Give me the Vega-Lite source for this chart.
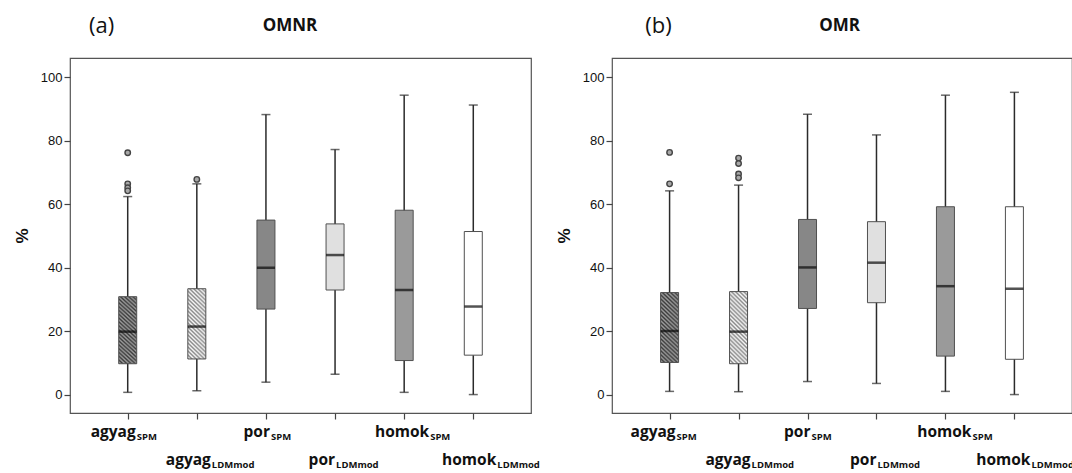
{
  "$schema": "https://vega.github.io/schema/vega-lite/v6.json",
  "background": "white",
  "autosize": {"type": "pad"},
  "padding": {"left": 12, "top": 13, "right": 0, "bottom": 0},
  "datasets": {
    "stats": [
      {"panel": "OMNR", "cat": "agyag_SPM", "lo": 0.8, "q1": 9.8, "med": 19.9, "q3": 30.9, "hi": 62.4},
      {"panel": "OMNR", "cat": "agyag_LDMmod", "lo": 1.3, "q1": 11.3, "med": 21.5, "q3": 33.4, "hi": 66.4},
      {"panel": "OMNR", "cat": "por_SPM", "lo": 4.0, "q1": 27.0, "med": 40.0, "q3": 55.0, "hi": 88.2},
      {"panel": "OMNR", "cat": "por_LDMmod", "lo": 6.5, "q1": 33.0, "med": 44.0, "q3": 53.8, "hi": 77.2},
      {"panel": "OMNR", "cat": "homok_SPM", "lo": 0.8, "q1": 10.8, "med": 33.0, "q3": 58.1, "hi": 94.3},
      {"panel": "OMNR", "cat": "homok_LDMmod", "lo": 0.1, "q1": 12.5, "med": 27.8, "q3": 51.4, "hi": 91.2},
      {"panel": "OMR", "cat": "agyag_SPM", "lo": 1.1, "q1": 10.2, "med": 20.1, "q3": 32.2, "hi": 64.2},
      {"panel": "OMR", "cat": "agyag_LDMmod", "lo": 1.0, "q1": 9.8, "med": 19.9, "q3": 32.5, "hi": 66.0},
      {"panel": "OMR", "cat": "por_SPM", "lo": 4.2, "q1": 27.2, "med": 40.1, "q3": 55.2, "hi": 88.3},
      {"panel": "OMR", "cat": "por_LDMmod", "lo": 3.6, "q1": 29.0, "med": 41.6, "q3": 54.5, "hi": 81.8},
      {"panel": "OMR", "cat": "homok_SPM", "lo": 1.1, "q1": 12.2, "med": 34.2, "q3": 59.2, "hi": 94.3},
      {"panel": "OMR", "cat": "homok_LDMmod", "lo": 0.1, "q1": 11.2, "med": 33.4, "q3": 59.2, "hi": 95.2}
    ],
    "outliers": [
      {"panel": "OMNR", "cat": "agyag_SPM", "v": 76.2},
      {"panel": "OMNR", "cat": "agyag_SPM", "v": 66.4},
      {"panel": "OMNR", "cat": "agyag_SPM", "v": 65.2},
      {"panel": "OMNR", "cat": "agyag_SPM", "v": 64.2},
      {"panel": "OMNR", "cat": "agyag_LDMmod", "v": 67.8},
      {"panel": "OMR", "cat": "agyag_SPM", "v": 76.3},
      {"panel": "OMR", "cat": "agyag_SPM", "v": 66.4},
      {"panel": "OMR", "cat": "agyag_LDMmod", "v": 74.5},
      {"panel": "OMR", "cat": "agyag_LDMmod", "v": 72.8},
      {"panel": "OMR", "cat": "agyag_LDMmod", "v": 69.5},
      {"panel": "OMR", "cat": "agyag_LDMmod", "v": 68.3}
    ],
    "labels": [
      {"cat": "agyag_SPM", "base": "agyag", "sub": "SPM"},
      {"cat": "agyag_LDMmod", "base": "agyag", "sub": "LDMmod"},
      {"cat": "por_SPM", "base": "por", "sub": "SPM"},
      {"cat": "por_LDMmod", "base": "por", "sub": "LDMmod"},
      {"cat": "homok_SPM", "base": "homok", "sub": "SPM"},
      {"cat": "homok_LDMmod", "base": "homok", "sub": "LDMmod"}
    ],
    "heads": [
      {"panel": "OMNR", "tag": "(a)"},
      {"panel": "OMR", "tag": "(b)"}
    ]
  },
  "bounds": "flush",
  "spacing": 81,
  "hconcat": [
    {
      "width": 461,
      "height": 355,
      "layer": [
        {
          "data": {"name": "stats"},
          "transform": [{"filter": "datum.panel == 'OMNR'"}],
          "mark": {"type": "rule", "color": "#2b2b2b", "strokeWidth": 1.5},
          "encoding": {
            "x": {"field": "cat", "type": "nominal", "scale": {"type": "point", "domain": ["agyag_SPM", "agyag_LDMmod", "por_SPM", "por_LDMmod", "homok_SPM", "homok_LDMmod"], "padding": 0.835}, "axis": {"labels": false, "title": null, "domain": false, "tickSize": 6}},
            "y": {"field": "lo", "type": "quantitative", "scale": {"domain": [-5.7, 106], "nice": false, "zero": false}, "axis": {"title": "%", "values": [0, 20, 40, 60, 80, 100], "grid": false, "domain": false, "tickSize": 6, "labelPadding": 2, "titlePadding": 9}},
            "y2": {"field": "hi"}
          }
        },
        {
          "data": {"name": "stats"},
          "transform": [{"filter": "datum.panel == 'OMNR'"}],
          "mark": {"type": "tick", "color": "#2b2b2b", "size": 9, "thickness": 1.5},
          "encoding": {"x": {"field": "cat", "type": "nominal"}, "y": {"field": "lo", "type": "quantitative"}}
        },
        {
          "data": {"name": "stats"},
          "transform": [{"filter": "datum.panel == 'OMNR'"}],
          "mark": {"type": "tick", "color": "#2b2b2b", "size": 9, "thickness": 1.5},
          "encoding": {"x": {"field": "cat", "type": "nominal"}, "y": {"field": "hi", "type": "quantitative"}}
        },
        {
          "data": {"name": "stats"},
          "transform": [{"filter": "datum.panel == 'OMNR' && datum.cat != 'agyag_SPM' && datum.cat != 'agyag_LDMmod'"}],
          "mark": {"type": "bar", "size": 18, "stroke": "#505050", "strokeWidth": 1, "opacity": 1},
          "encoding": {
            "x": {"field": "cat", "type": "nominal"},
            "y": {"field": "q1", "type": "quantitative"},
            "y2": {"field": "q3"},
            "fill": {"field": "cat", "type": "nominal", "legend": null, "scale": {"domain": ["por_SPM", "por_LDMmod", "homok_SPM", "homok_LDMmod"], "range": ["#878787", "#e0e0e0", "#9a9a9a", "#ffffff"]}}
          }
        },
        {
          "data": {"name": "stats"},
          "transform": [{"filter": "datum.panel == 'OMNR' && datum.cat == 'agyag_SPM'"}],
          "mark": {"type": "bar", "size": 18, "stroke": "#505050", "strokeWidth": 1, "opacity": 1,
            "fill": {"gradient": "linear", "x1": 0, "y1": 1, "x2": 0.29, "y2": -0.18, "stops": [
              {"offset": 0, "color": "#3c3c3c"}, {"offset": 0.0227, "color": "#9c9c9c"}, {"offset": 0.0455, "color": "#3c3c3c"}, {"offset": 0.0682, "color": "#9c9c9c"}, {"offset": 0.0909, "color": "#3c3c3c"}, {"offset": 0.1136, "color": "#9c9c9c"}, {"offset": 0.1364, "color": "#3c3c3c"}, {"offset": 0.1591, "color": "#9c9c9c"}, {"offset": 0.1818, "color": "#3c3c3c"}, {"offset": 0.2045, "color": "#9c9c9c"}, {"offset": 0.2273, "color": "#3c3c3c"}, {"offset": 0.25, "color": "#9c9c9c"}, {"offset": 0.2727, "color": "#3c3c3c"}, {"offset": 0.2955, "color": "#9c9c9c"}, {"offset": 0.3182, "color": "#3c3c3c"}, {"offset": 0.3409, "color": "#9c9c9c"}, {"offset": 0.3636, "color": "#3c3c3c"}, {"offset": 0.3864, "color": "#9c9c9c"}, {"offset": 0.4091, "color": "#3c3c3c"}, {"offset": 0.4318, "color": "#9c9c9c"}, {"offset": 0.4545, "color": "#3c3c3c"}, {"offset": 0.4773, "color": "#9c9c9c"}, {"offset": 0.5, "color": "#3c3c3c"}, {"offset": 0.5227, "color": "#9c9c9c"}, {"offset": 0.5455, "color": "#3c3c3c"}, {"offset": 0.5682, "color": "#9c9c9c"}, {"offset": 0.5909, "color": "#3c3c3c"}, {"offset": 0.6136, "color": "#9c9c9c"}, {"offset": 0.6364, "color": "#3c3c3c"}, {"offset": 0.6591, "color": "#9c9c9c"}, {"offset": 0.6818, "color": "#3c3c3c"}, {"offset": 0.7045, "color": "#9c9c9c"}, {"offset": 0.7273, "color": "#3c3c3c"}, {"offset": 0.75, "color": "#9c9c9c"}, {"offset": 0.7727, "color": "#3c3c3c"}, {"offset": 0.7955, "color": "#9c9c9c"}, {"offset": 0.8182, "color": "#3c3c3c"}, {"offset": 0.8409, "color": "#9c9c9c"}, {"offset": 0.8636, "color": "#3c3c3c"}, {"offset": 0.8864, "color": "#9c9c9c"}, {"offset": 0.9091, "color": "#3c3c3c"}, {"offset": 0.9318, "color": "#9c9c9c"}, {"offset": 0.9545, "color": "#3c3c3c"}, {"offset": 0.9773, "color": "#9c9c9c"}, {"offset": 1, "color": "#3c3c3c"}
            ]}},
          "encoding": {"x": {"field": "cat", "type": "nominal"}, "y": {"field": "q1", "type": "quantitative"}, "y2": {"field": "q3"}}
        },
        {
          "data": {"name": "stats"},
          "transform": [{"filter": "datum.panel == 'OMNR' && datum.cat == 'agyag_LDMmod'"}],
          "mark": {"type": "bar", "size": 18, "stroke": "#505050", "strokeWidth": 1, "opacity": 1,
            "fill": {"gradient": "linear", "x1": 0, "y1": 1, "x2": 0.29, "y2": -0.18, "stops": [
              {"offset": 0, "color": "#8a8a8a"}, {"offset": 0.0227, "color": "#f6f6f6"}, {"offset": 0.0455, "color": "#8a8a8a"}, {"offset": 0.0682, "color": "#f6f6f6"}, {"offset": 0.0909, "color": "#8a8a8a"}, {"offset": 0.1136, "color": "#f6f6f6"}, {"offset": 0.1364, "color": "#8a8a8a"}, {"offset": 0.1591, "color": "#f6f6f6"}, {"offset": 0.1818, "color": "#8a8a8a"}, {"offset": 0.2045, "color": "#f6f6f6"}, {"offset": 0.2273, "color": "#8a8a8a"}, {"offset": 0.25, "color": "#f6f6f6"}, {"offset": 0.2727, "color": "#8a8a8a"}, {"offset": 0.2955, "color": "#f6f6f6"}, {"offset": 0.3182, "color": "#8a8a8a"}, {"offset": 0.3409, "color": "#f6f6f6"}, {"offset": 0.3636, "color": "#8a8a8a"}, {"offset": 0.3864, "color": "#f6f6f6"}, {"offset": 0.4091, "color": "#8a8a8a"}, {"offset": 0.4318, "color": "#f6f6f6"}, {"offset": 0.4545, "color": "#8a8a8a"}, {"offset": 0.4773, "color": "#f6f6f6"}, {"offset": 0.5, "color": "#8a8a8a"}, {"offset": 0.5227, "color": "#f6f6f6"}, {"offset": 0.5455, "color": "#8a8a8a"}, {"offset": 0.5682, "color": "#f6f6f6"}, {"offset": 0.5909, "color": "#8a8a8a"}, {"offset": 0.6136, "color": "#f6f6f6"}, {"offset": 0.6364, "color": "#8a8a8a"}, {"offset": 0.6591, "color": "#f6f6f6"}, {"offset": 0.6818, "color": "#8a8a8a"}, {"offset": 0.7045, "color": "#f6f6f6"}, {"offset": 0.7273, "color": "#8a8a8a"}, {"offset": 0.75, "color": "#f6f6f6"}, {"offset": 0.7727, "color": "#8a8a8a"}, {"offset": 0.7955, "color": "#f6f6f6"}, {"offset": 0.8182, "color": "#8a8a8a"}, {"offset": 0.8409, "color": "#f6f6f6"}, {"offset": 0.8636, "color": "#8a8a8a"}, {"offset": 0.8864, "color": "#f6f6f6"}, {"offset": 0.9091, "color": "#8a8a8a"}, {"offset": 0.9318, "color": "#f6f6f6"}, {"offset": 0.9545, "color": "#8a8a8a"}, {"offset": 0.9773, "color": "#f6f6f6"}, {"offset": 1, "color": "#8a8a8a"}
            ]}},
          "encoding": {"x": {"field": "cat", "type": "nominal"}, "y": {"field": "q1", "type": "quantitative"}, "y2": {"field": "q3"}}
        },
        {
          "data": {"name": "stats"},
          "transform": [{"filter": "datum.panel == 'OMNR'"}],
          "mark": {"type": "tick", "color": "#0a0a0a", "size": 18, "thickness": 2.5},
          "encoding": {"x": {"field": "cat", "type": "nominal"}, "y": {"field": "med", "type": "quantitative"}}
        },
        {
          "data": {"name": "outliers"},
          "transform": [{"filter": "datum.panel == 'OMNR'"}],
          "mark": {"type": "point", "shape": "circle", "filled": true, "size": 30, "fill": "#a8a8a8", "stroke": "#444444", "strokeWidth": 1.4, "opacity": 1},
          "encoding": {"x": {"field": "cat", "type": "nominal"}, "y": {"field": "v", "type": "quantitative"}}
        },
        {
          "data": {"name": "heads"},
          "transform": [{"filter": "datum.panel == 'OMNR'"}],
          "mark": {"type": "text", "font": "Open Sans", "fontSize": 22, "color": "#111", "align": "center", "baseline": "middle", "dx": -26},
          "encoding": {"x": {"datum": "agyag_SPM", "type": "nominal"}, "y": {"datum": 116.2, "type": "quantitative"}, "text": {"field": "tag"}}
        },
        {
          "data": {"name": "heads"},
          "transform": [{"filter": "datum.panel == 'OMNR'"}],
          "mark": {"type": "text", "font": "Open Sans", "fontSize": 17, "fontWeight": "bold", "color": "#111", "align": "center", "baseline": "middle", "dx": 24},
          "encoding": {"x": {"datum": "por_SPM", "type": "nominal"}, "y": {"datum": 116.2, "type": "quantitative"}, "text": {"field": "panel"}}
        },
        {"data": {"name": "labels"}, "transform": [{"filter": "datum.cat == 'agyag_SPM'"}], "mark": {"type": "text", "font": "Open Sans", "fontSize": 15.5, "fontWeight": "bold", "color": "#111", "align": "right", "baseline": "alphabetic", "dx": 8}, "encoding": {"x": {"field": "cat", "type": "nominal"}, "y": {"datum": -13.2, "type": "quantitative"}, "text": {"field": "base"}}},
        {"data": {"name": "labels"}, "transform": [{"filter": "datum.cat == 'agyag_SPM'"}], "mark": {"type": "text", "font": "Open Sans", "fontSize": 9.5, "fontWeight": "bold", "color": "#111", "align": "left", "baseline": "alphabetic", "dx": 9, "dy": 3}, "encoding": {"x": {"field": "cat", "type": "nominal"}, "y": {"datum": -13.2, "type": "quantitative"}, "text": {"field": "sub"}}},
        {"data": {"name": "labels"}, "transform": [{"filter": "datum.cat == 'agyag_LDMmod'"}], "mark": {"type": "text", "font": "Open Sans", "fontSize": 15.5, "fontWeight": "bold", "color": "#111", "align": "right", "baseline": "alphabetic", "dx": 14}, "encoding": {"x": {"field": "cat", "type": "nominal"}, "y": {"datum": -22.1, "type": "quantitative"}, "text": {"field": "base"}}},
        {"data": {"name": "labels"}, "transform": [{"filter": "datum.cat == 'agyag_LDMmod'"}], "mark": {"type": "text", "font": "Open Sans", "fontSize": 9.5, "fontWeight": "bold", "color": "#111", "align": "left", "baseline": "alphabetic", "dx": 15, "dy": 2.5}, "encoding": {"x": {"field": "cat", "type": "nominal"}, "y": {"datum": -22.1, "type": "quantitative"}, "text": {"field": "sub"}}},
        {"data": {"name": "labels"}, "transform": [{"filter": "datum.cat == 'por_SPM'"}], "mark": {"type": "text", "font": "Open Sans", "fontSize": 15.5, "fontWeight": "bold", "color": "#111", "align": "right", "baseline": "alphabetic", "dx": 4}, "encoding": {"x": {"field": "cat", "type": "nominal"}, "y": {"datum": -13.2, "type": "quantitative"}, "text": {"field": "base"}}},
        {"data": {"name": "labels"}, "transform": [{"filter": "datum.cat == 'por_SPM'"}], "mark": {"type": "text", "font": "Open Sans", "fontSize": 9.5, "fontWeight": "bold", "color": "#111", "align": "left", "baseline": "alphabetic", "dx": 5, "dy": 3}, "encoding": {"x": {"field": "cat", "type": "nominal"}, "y": {"datum": -13.2, "type": "quantitative"}, "text": {"field": "sub"}}},
        {"data": {"name": "labels"}, "transform": [{"filter": "datum.cat == 'por_LDMmod'"}], "mark": {"type": "text", "font": "Open Sans", "fontSize": 15.5, "fontWeight": "bold", "color": "#111", "align": "right", "baseline": "alphabetic", "dx": 0}, "encoding": {"x": {"field": "cat", "type": "nominal"}, "y": {"datum": -22.1, "type": "quantitative"}, "text": {"field": "base"}}},
        {"data": {"name": "labels"}, "transform": [{"filter": "datum.cat == 'por_LDMmod'"}], "mark": {"type": "text", "font": "Open Sans", "fontSize": 9.5, "fontWeight": "bold", "color": "#111", "align": "left", "baseline": "alphabetic", "dx": 1, "dy": 2.5}, "encoding": {"x": {"field": "cat", "type": "nominal"}, "y": {"datum": -22.1, "type": "quantitative"}, "text": {"field": "sub"}}},
        {"data": {"name": "labels"}, "transform": [{"filter": "datum.cat == 'homok_SPM'"}], "mark": {"type": "text", "font": "Open Sans", "fontSize": 15.5, "fontWeight": "bold", "color": "#111", "align": "right", "baseline": "alphabetic", "dx": 25}, "encoding": {"x": {"field": "cat", "type": "nominal"}, "y": {"datum": -13.2, "type": "quantitative"}, "text": {"field": "base"}}},
        {"data": {"name": "labels"}, "transform": [{"filter": "datum.cat == 'homok_SPM'"}], "mark": {"type": "text", "font": "Open Sans", "fontSize": 9.5, "fontWeight": "bold", "color": "#111", "align": "left", "baseline": "alphabetic", "dx": 26, "dy": 3}, "encoding": {"x": {"field": "cat", "type": "nominal"}, "y": {"datum": -13.2, "type": "quantitative"}, "text": {"field": "sub"}}},
        {"data": {"name": "labels"}, "transform": [{"filter": "datum.cat == 'homok_LDMmod'"}], "mark": {"type": "text", "font": "Open Sans", "fontSize": 15.5, "fontWeight": "bold", "color": "#111", "align": "right", "baseline": "alphabetic", "dx": 23}, "encoding": {"x": {"field": "cat", "type": "nominal"}, "y": {"datum": -22.1, "type": "quantitative"}, "text": {"field": "base"}}},
        {"data": {"name": "labels"}, "transform": [{"filter": "datum.cat == 'homok_LDMmod'"}], "mark": {"type": "text", "font": "Open Sans", "fontSize": 9.5, "fontWeight": "bold", "color": "#111", "align": "left", "baseline": "alphabetic", "dx": 24, "dy": 2.5}, "encoding": {"x": {"field": "cat", "type": "nominal"}, "y": {"datum": -22.1, "type": "quantitative"}, "text": {"field": "sub"}}}
      ]
    },
    {
      "width": 460,
      "height": 355,
      "layer": [
        {
          "data": {"name": "stats"},
          "transform": [{"filter": "datum.panel == 'OMR'"}],
          "mark": {"type": "rule", "color": "#2b2b2b", "strokeWidth": 1.5},
          "encoding": {
            "x": {"field": "cat", "type": "nominal", "scale": {"type": "point", "domain": ["agyag_SPM", "agyag_LDMmod", "por_SPM", "por_LDMmod", "homok_SPM", "homok_LDMmod"], "padding": 0.835}, "axis": {"labels": false, "title": null, "domain": false, "tickSize": 6}},
            "y": {"field": "lo", "type": "quantitative", "scale": {"domain": [-5.7, 106], "nice": false, "zero": false}, "axis": {"title": "%", "values": [0, 20, 40, 60, 80, 100], "grid": false, "domain": false, "tickSize": 6, "labelPadding": 2, "titlePadding": 9}},
            "y2": {"field": "hi"}
          }
        },
        {
          "data": {"name": "stats"},
          "transform": [{"filter": "datum.panel == 'OMR'"}],
          "mark": {"type": "tick", "color": "#2b2b2b", "size": 9, "thickness": 1.5},
          "encoding": {"x": {"field": "cat", "type": "nominal"}, "y": {"field": "lo", "type": "quantitative"}}
        },
        {
          "data": {"name": "stats"},
          "transform": [{"filter": "datum.panel == 'OMR'"}],
          "mark": {"type": "tick", "color": "#2b2b2b", "size": 9, "thickness": 1.5},
          "encoding": {"x": {"field": "cat", "type": "nominal"}, "y": {"field": "hi", "type": "quantitative"}}
        },
        {
          "data": {"name": "stats"},
          "transform": [{"filter": "datum.panel == 'OMR' && datum.cat != 'agyag_SPM' && datum.cat != 'agyag_LDMmod'"}],
          "mark": {"type": "bar", "size": 18, "stroke": "#505050", "strokeWidth": 1, "opacity": 1},
          "encoding": {
            "x": {"field": "cat", "type": "nominal"},
            "y": {"field": "q1", "type": "quantitative"},
            "y2": {"field": "q3"},
            "fill": {"field": "cat", "type": "nominal", "legend": null, "scale": {"domain": ["por_SPM", "por_LDMmod", "homok_SPM", "homok_LDMmod"], "range": ["#878787", "#e0e0e0", "#9a9a9a", "#ffffff"]}}
          }
        },
        {
          "data": {"name": "stats"},
          "transform": [{"filter": "datum.panel == 'OMR' && datum.cat == 'agyag_SPM'"}],
          "mark": {"type": "bar", "size": 18, "stroke": "#505050", "strokeWidth": 1, "opacity": 1,
            "fill": {"gradient": "linear", "x1": 0, "y1": 1, "x2": 0.29, "y2": -0.18, "stops": [
              {"offset": 0, "color": "#3c3c3c"}, {"offset": 0.0227, "color": "#9c9c9c"}, {"offset": 0.0455, "color": "#3c3c3c"}, {"offset": 0.0682, "color": "#9c9c9c"}, {"offset": 0.0909, "color": "#3c3c3c"}, {"offset": 0.1136, "color": "#9c9c9c"}, {"offset": 0.1364, "color": "#3c3c3c"}, {"offset": 0.1591, "color": "#9c9c9c"}, {"offset": 0.1818, "color": "#3c3c3c"}, {"offset": 0.2045, "color": "#9c9c9c"}, {"offset": 0.2273, "color": "#3c3c3c"}, {"offset": 0.25, "color": "#9c9c9c"}, {"offset": 0.2727, "color": "#3c3c3c"}, {"offset": 0.2955, "color": "#9c9c9c"}, {"offset": 0.3182, "color": "#3c3c3c"}, {"offset": 0.3409, "color": "#9c9c9c"}, {"offset": 0.3636, "color": "#3c3c3c"}, {"offset": 0.3864, "color": "#9c9c9c"}, {"offset": 0.4091, "color": "#3c3c3c"}, {"offset": 0.4318, "color": "#9c9c9c"}, {"offset": 0.4545, "color": "#3c3c3c"}, {"offset": 0.4773, "color": "#9c9c9c"}, {"offset": 0.5, "color": "#3c3c3c"}, {"offset": 0.5227, "color": "#9c9c9c"}, {"offset": 0.5455, "color": "#3c3c3c"}, {"offset": 0.5682, "color": "#9c9c9c"}, {"offset": 0.5909, "color": "#3c3c3c"}, {"offset": 0.6136, "color": "#9c9c9c"}, {"offset": 0.6364, "color": "#3c3c3c"}, {"offset": 0.6591, "color": "#9c9c9c"}, {"offset": 0.6818, "color": "#3c3c3c"}, {"offset": 0.7045, "color": "#9c9c9c"}, {"offset": 0.7273, "color": "#3c3c3c"}, {"offset": 0.75, "color": "#9c9c9c"}, {"offset": 0.7727, "color": "#3c3c3c"}, {"offset": 0.7955, "color": "#9c9c9c"}, {"offset": 0.8182, "color": "#3c3c3c"}, {"offset": 0.8409, "color": "#9c9c9c"}, {"offset": 0.8636, "color": "#3c3c3c"}, {"offset": 0.8864, "color": "#9c9c9c"}, {"offset": 0.9091, "color": "#3c3c3c"}, {"offset": 0.9318, "color": "#9c9c9c"}, {"offset": 0.9545, "color": "#3c3c3c"}, {"offset": 0.9773, "color": "#9c9c9c"}, {"offset": 1, "color": "#3c3c3c"}
            ]}},
          "encoding": {"x": {"field": "cat", "type": "nominal"}, "y": {"field": "q1", "type": "quantitative"}, "y2": {"field": "q3"}}
        },
        {
          "data": {"name": "stats"},
          "transform": [{"filter": "datum.panel == 'OMR' && datum.cat == 'agyag_LDMmod'"}],
          "mark": {"type": "bar", "size": 18, "stroke": "#505050", "strokeWidth": 1, "opacity": 1,
            "fill": {"gradient": "linear", "x1": 0, "y1": 1, "x2": 0.29, "y2": -0.18, "stops": [
              {"offset": 0, "color": "#8a8a8a"}, {"offset": 0.0227, "color": "#f6f6f6"}, {"offset": 0.0455, "color": "#8a8a8a"}, {"offset": 0.0682, "color": "#f6f6f6"}, {"offset": 0.0909, "color": "#8a8a8a"}, {"offset": 0.1136, "color": "#f6f6f6"}, {"offset": 0.1364, "color": "#8a8a8a"}, {"offset": 0.1591, "color": "#f6f6f6"}, {"offset": 0.1818, "color": "#8a8a8a"}, {"offset": 0.2045, "color": "#f6f6f6"}, {"offset": 0.2273, "color": "#8a8a8a"}, {"offset": 0.25, "color": "#f6f6f6"}, {"offset": 0.2727, "color": "#8a8a8a"}, {"offset": 0.2955, "color": "#f6f6f6"}, {"offset": 0.3182, "color": "#8a8a8a"}, {"offset": 0.3409, "color": "#f6f6f6"}, {"offset": 0.3636, "color": "#8a8a8a"}, {"offset": 0.3864, "color": "#f6f6f6"}, {"offset": 0.4091, "color": "#8a8a8a"}, {"offset": 0.4318, "color": "#f6f6f6"}, {"offset": 0.4545, "color": "#8a8a8a"}, {"offset": 0.4773, "color": "#f6f6f6"}, {"offset": 0.5, "color": "#8a8a8a"}, {"offset": 0.5227, "color": "#f6f6f6"}, {"offset": 0.5455, "color": "#8a8a8a"}, {"offset": 0.5682, "color": "#f6f6f6"}, {"offset": 0.5909, "color": "#8a8a8a"}, {"offset": 0.6136, "color": "#f6f6f6"}, {"offset": 0.6364, "color": "#8a8a8a"}, {"offset": 0.6591, "color": "#f6f6f6"}, {"offset": 0.6818, "color": "#8a8a8a"}, {"offset": 0.7045, "color": "#f6f6f6"}, {"offset": 0.7273, "color": "#8a8a8a"}, {"offset": 0.75, "color": "#f6f6f6"}, {"offset": 0.7727, "color": "#8a8a8a"}, {"offset": 0.7955, "color": "#f6f6f6"}, {"offset": 0.8182, "color": "#8a8a8a"}, {"offset": 0.8409, "color": "#f6f6f6"}, {"offset": 0.8636, "color": "#8a8a8a"}, {"offset": 0.8864, "color": "#f6f6f6"}, {"offset": 0.9091, "color": "#8a8a8a"}, {"offset": 0.9318, "color": "#f6f6f6"}, {"offset": 0.9545, "color": "#8a8a8a"}, {"offset": 0.9773, "color": "#f6f6f6"}, {"offset": 1, "color": "#8a8a8a"}
            ]}},
          "encoding": {"x": {"field": "cat", "type": "nominal"}, "y": {"field": "q1", "type": "quantitative"}, "y2": {"field": "q3"}}
        },
        {
          "data": {"name": "stats"},
          "transform": [{"filter": "datum.panel == 'OMR'"}],
          "mark": {"type": "tick", "color": "#0a0a0a", "size": 18, "thickness": 2.5},
          "encoding": {"x": {"field": "cat", "type": "nominal"}, "y": {"field": "med", "type": "quantitative"}}
        },
        {
          "data": {"name": "outliers"},
          "transform": [{"filter": "datum.panel == 'OMR'"}],
          "mark": {"type": "point", "shape": "circle", "filled": true, "size": 30, "fill": "#a8a8a8", "stroke": "#444444", "strokeWidth": 1.4, "opacity": 1},
          "encoding": {"x": {"field": "cat", "type": "nominal"}, "y": {"field": "v", "type": "quantitative"}}
        },
        {
          "data": {"name": "heads"},
          "transform": [{"filter": "datum.panel == 'OMR'"}],
          "mark": {"type": "text", "font": "Open Sans", "fontSize": 22, "color": "#111", "align": "center", "baseline": "middle", "dx": -11},
          "encoding": {"x": {"datum": "agyag_SPM", "type": "nominal"}, "y": {"datum": 116.2, "type": "quantitative"}, "text": {"field": "tag"}}
        },
        {
          "data": {"name": "heads"},
          "transform": [{"filter": "datum.panel == 'OMR'"}],
          "mark": {"type": "text", "font": "Open Sans", "fontSize": 17, "fontWeight": "bold", "color": "#111", "align": "center", "baseline": "middle", "dx": 32},
          "encoding": {"x": {"datum": "por_SPM", "type": "nominal"}, "y": {"datum": 116.2, "type": "quantitative"}, "text": {"field": "panel"}}
        },
        {"data": {"name": "labels"}, "transform": [{"filter": "datum.cat == 'agyag_SPM'"}], "mark": {"type": "text", "font": "Open Sans", "fontSize": 15.5, "fontWeight": "bold", "color": "#111", "align": "right", "baseline": "alphabetic", "dx": 6}, "encoding": {"x": {"field": "cat", "type": "nominal"}, "y": {"datum": -13.2, "type": "quantitative"}, "text": {"field": "base"}}},
        {"data": {"name": "labels"}, "transform": [{"filter": "datum.cat == 'agyag_SPM'"}], "mark": {"type": "text", "font": "Open Sans", "fontSize": 9.5, "fontWeight": "bold", "color": "#111", "align": "left", "baseline": "alphabetic", "dx": 7, "dy": 3}, "encoding": {"x": {"field": "cat", "type": "nominal"}, "y": {"datum": -13.2, "type": "quantitative"}, "text": {"field": "sub"}}},
        {"data": {"name": "labels"}, "transform": [{"filter": "datum.cat == 'agyag_LDMmod'"}], "mark": {"type": "text", "font": "Open Sans", "fontSize": 15.5, "fontWeight": "bold", "color": "#111", "align": "right", "baseline": "alphabetic", "dx": 12}, "encoding": {"x": {"field": "cat", "type": "nominal"}, "y": {"datum": -22.1, "type": "quantitative"}, "text": {"field": "base"}}},
        {"data": {"name": "labels"}, "transform": [{"filter": "datum.cat == 'agyag_LDMmod'"}], "mark": {"type": "text", "font": "Open Sans", "fontSize": 9.5, "fontWeight": "bold", "color": "#111", "align": "left", "baseline": "alphabetic", "dx": 13, "dy": 2.5}, "encoding": {"x": {"field": "cat", "type": "nominal"}, "y": {"datum": -22.1, "type": "quantitative"}, "text": {"field": "sub"}}},
        {"data": {"name": "labels"}, "transform": [{"filter": "datum.cat == 'por_SPM'"}], "mark": {"type": "text", "font": "Open Sans", "fontSize": 15.5, "fontWeight": "bold", "color": "#111", "align": "right", "baseline": "alphabetic", "dx": 3}, "encoding": {"x": {"field": "cat", "type": "nominal"}, "y": {"datum": -13.2, "type": "quantitative"}, "text": {"field": "base"}}},
        {"data": {"name": "labels"}, "transform": [{"filter": "datum.cat == 'por_SPM'"}], "mark": {"type": "text", "font": "Open Sans", "fontSize": 9.5, "fontWeight": "bold", "color": "#111", "align": "left", "baseline": "alphabetic", "dx": 4, "dy": 3}, "encoding": {"x": {"field": "cat", "type": "nominal"}, "y": {"datum": -13.2, "type": "quantitative"}, "text": {"field": "sub"}}},
        {"data": {"name": "labels"}, "transform": [{"filter": "datum.cat == 'por_LDMmod'"}], "mark": {"type": "text", "font": "Open Sans", "fontSize": 15.5, "fontWeight": "bold", "color": "#111", "align": "right", "baseline": "alphabetic", "dx": 0}, "encoding": {"x": {"field": "cat", "type": "nominal"}, "y": {"datum": -22.1, "type": "quantitative"}, "text": {"field": "base"}}},
        {"data": {"name": "labels"}, "transform": [{"filter": "datum.cat == 'por_LDMmod'"}], "mark": {"type": "text", "font": "Open Sans", "fontSize": 9.5, "fontWeight": "bold", "color": "#111", "align": "left", "baseline": "alphabetic", "dx": 1, "dy": 2.5}, "encoding": {"x": {"field": "cat", "type": "nominal"}, "y": {"datum": -22.1, "type": "quantitative"}, "text": {"field": "sub"}}},
        {"data": {"name": "labels"}, "transform": [{"filter": "datum.cat == 'homok_SPM'"}], "mark": {"type": "text", "font": "Open Sans", "fontSize": 15.5, "fontWeight": "bold", "color": "#111", "align": "right", "baseline": "alphabetic", "dx": 26}, "encoding": {"x": {"field": "cat", "type": "nominal"}, "y": {"datum": -13.2, "type": "quantitative"}, "text": {"field": "base"}}},
        {"data": {"name": "labels"}, "transform": [{"filter": "datum.cat == 'homok_SPM'"}], "mark": {"type": "text", "font": "Open Sans", "fontSize": 9.5, "fontWeight": "bold", "color": "#111", "align": "left", "baseline": "alphabetic", "dx": 27, "dy": 3}, "encoding": {"x": {"field": "cat", "type": "nominal"}, "y": {"datum": -13.2, "type": "quantitative"}, "text": {"field": "sub"}}},
        {"data": {"name": "labels"}, "transform": [{"filter": "datum.cat == 'homok_LDMmod'"}], "mark": {"type": "text", "font": "Open Sans", "fontSize": 15.5, "fontWeight": "bold", "color": "#111", "align": "right", "baseline": "alphabetic", "dx": 16}, "encoding": {"x": {"field": "cat", "type": "nominal"}, "y": {"datum": -22.1, "type": "quantitative"}, "text": {"field": "base"}}},
        {"data": {"name": "labels"}, "transform": [{"filter": "datum.cat == 'homok_LDMmod'"}], "mark": {"type": "text", "font": "Open Sans", "fontSize": 9.5, "fontWeight": "bold", "color": "#111", "align": "left", "baseline": "alphabetic", "dx": 17, "dy": 2.5}, "encoding": {"x": {"field": "cat", "type": "nominal"}, "y": {"datum": -22.1, "type": "quantitative"}, "text": {"field": "sub"}}}
      ]
    }
  ],
  "config": {
    "view": {"stroke": "#555555", "strokeWidth": 1.2},
    "axis": {
      "labelFont": "Liberation Sans",
      "labelFontSize": 13,
      "labelColor": "#111111",
      "tickColor": "#444444",
      "tickWidth": 1.2,
      "titleFont": "Liberation Sans",
      "titleFontSize": 17,
      "titleFontWeight": "bold",
      "titleColor": "#111111"
    }
  }
}
